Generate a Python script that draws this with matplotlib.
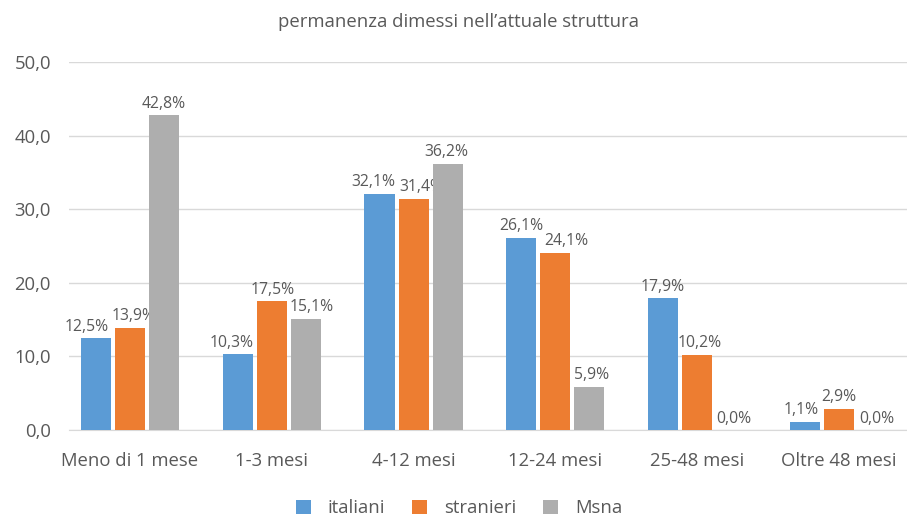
import matplotlib
matplotlib.use("Agg")
import matplotlib.pyplot as plt
import numpy as np

categories = ["Meno di 1 mese", "1-3 mesi", "4-12 mesi", "12-24 mesi", "25-48 mesi", "Oltre 48 mesi"]
italiani = [12.5, 10.3, 32.1, 26.1, 17.9, 1.1]
stranieri = [13.9, 17.5, 31.4, 24.1, 10.2, 2.9]
msna = [42.8, 15.1, 36.2, 5.9, 0.0, 0.0]
series_names = ["italiani", "stranieri", "Msna"]
colors = ["#5B9BD5", "#ED7D31", "#AEAEAE"]
yticks = [0, 10, 20, 30, 40, 50]

# horizontal nudges of data labels (pixels), to avoid overlaps as in the reference
label_nudge = [
    [-9, -6, -6.5, 0, 0, -3.5],
    [4, 1, 7.5, 11, 3, 0],
    [0, 6, -1, 2, 3, 4],
]

plt.rcParams['font.family'] = ['Open Sans', 'DejaVu Sans']
txt = "#595959"

fig = plt.figure(figsize=(9.07, 5.17), dpi=100)
ax = fig.add_axes([69 / 907, 1 - 430 / 517, 838 / 907, 368 / 517])

x = np.arange(len(categories))
w = 0.212
step = 0.24
for i, (vals, name, c) in enumerate(zip([italiani, stranieri, msna], series_names, colors)):
    pos = x + (i - 1) * step
    ax.bar(pos, vals, width=w, color=c, label=name, zorder=3)
    for j, (p, v) in enumerate(zip(pos, vals)):
        ax.annotate(f"{v:.1f}%".replace(".", ","), (p, v), xytext=(label_nudge[i][j] * 0.72, 2.5),
                    textcoords="offset points", ha="center", va="bottom",
                    fontsize=11.3, color=txt)

ax.set_xlim(-0.43, 5.48)
ax.set_ylim(0, 50)
ax.set_yticks(yticks)
ax.set_yticklabels([f"{t:.1f}".replace(".", ",") for t in yticks], fontsize=13.3, color=txt)
ax.set_xticks(x)
ax.set_xticklabels(categories, fontsize=13.3, color=txt)
ax.tick_params(axis="both", length=0)
ax.tick_params(axis="x", pad=16)
ax.tick_params(axis="y", pad=13)
ax.yaxis.grid(True, color="#D9D9D9", linewidth=1, zorder=0)
for s in ["top", "right", "left"]:
    ax.spines[s].set_visible(False)
ax.spines["bottom"].set_color("#D9D9D9")

fig.text(0.506, 1 - 22 / 517, "permanenza dimessi nell\u2019attuale struttura", ha="center", va="center",
         fontsize=13.3, color=txt)
fig.legend(loc="center", bbox_to_anchor=(0.506, 1 - 508 / 517), ncol=3, frameon=False,
           fontsize=13.3, labelcolor=txt, handlelength=0.8, handleheight=0.8, columnspacing=1.5,
           handletextpad=0.9, borderaxespad=0, borderpad=0)

fig.savefig("out.png", dpi=100)
